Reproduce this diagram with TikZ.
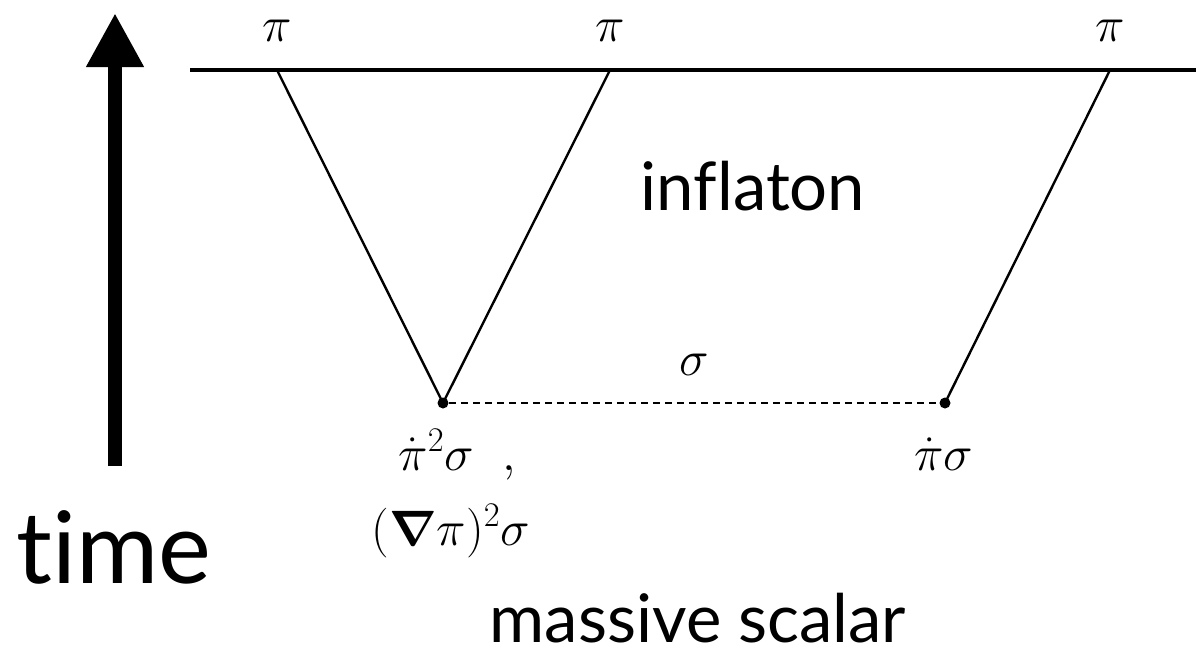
\documentclass[tikz,border=0pt]{standalone}
\usepackage{amsmath}
\usepackage[no-math]{fontspec}
\newfontfamily\gill[Ligatures=NoCommon]{Lato}
\usetikzlibrary{arrows.meta}
\begin{document}
\begin{tikzpicture}[x=0.5pt,y=-0.5pt,
  mathlbl/.style={inner sep=0pt,font=\fontsize{23.5}{27}\selectfont},
  bigtxt/.style={inner sep=0pt,anchor=base,font=\gill\fontsize{33.5}{40}\selectfont},
  thin line/.style={line width=1.2pt},
  vertex/.style={circle,fill=black,inner sep=0pt,minimum size=5.5pt}]
\useasboundingbox (0,0) rectangle (1196,660);
% time arrow
\coordinate (tb) at (115,466);
\coordinate (tt) at (115,13);
\draw[line width=7pt,-{Triangle[width=27pt,length=27pt]}] (tb) -- (tt);
\node[inner sep=0pt,font=\gill\fontsize{50}{56}\selectfont,anchor=base] (time) at (114,583) {time};
% boundary
\coordinate (bl) at (190,70);
\coordinate (br) at (1196,70);
\draw[line width=2pt] (bl) -- (br);
\coordinate (p1) at (277,70);
\coordinate (p2) at (610,70);
\coordinate (p3) at (1110,70);
\node[mathlbl] (l1) at (277,31) {$\pi$};
\node[mathlbl] (l2) at (610,31) {$\pi$};
\node[mathlbl] (l3) at (1110,31) {$\pi$};
% vertices
\node[vertex] (v1) at (443,403) {};
\node[vertex] (v2) at (945,403) {};
\draw[thin line] (p1) -- (v1.center) -- (p2);
\draw[thin line] (p3) -- (v2.center);
\draw[thin line,dash pattern=on 3.5pt off 2.5pt] (v1) -- (v2);
\node[mathlbl] (sig) at (694,365) {$\sigma$};
\node[mathlbl,anchor=base west] (a1) at (398,470) {$\dot\pi^2\sigma\ \ ,$};
\node[mathlbl,anchor=base west] (a2) at (371,545) {$(\boldsymbol{\nabla}\pi)^2\sigma$};
\node[mathlbl,anchor=base] (b1) at (944,470) {$\dot\pi\sigma$};
\node[bigtxt] (infl) at (753,210) {inflaton};
\node[bigtxt] (mass) at (698,642) {massive scalar};
\end{tikzpicture}
\end{document}
